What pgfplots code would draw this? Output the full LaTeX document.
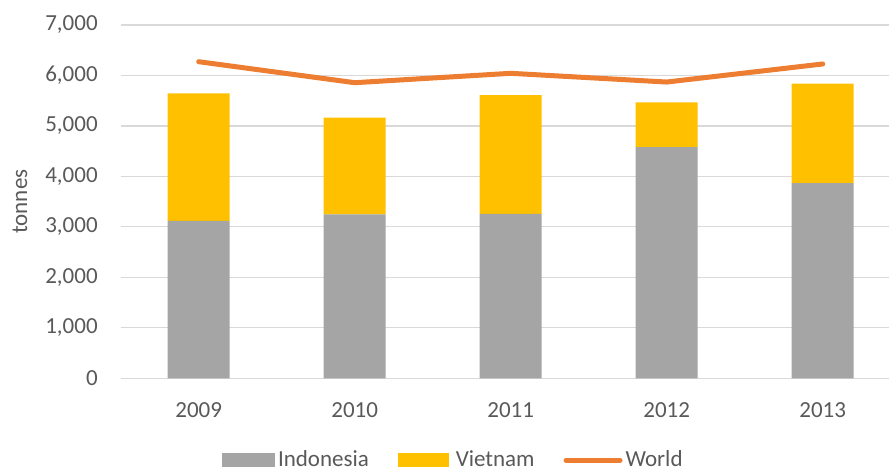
\documentclass[border=0pt]{standalone}
\usepackage{fontspec}
\setmainfont{Carlito}
\usepackage{pgfplots}
\pgfplotsset{compat=1.18}
\definecolor{indo}{HTML}{A5A5A5}
\definecolor{viet}{HTML}{FFC000}
\definecolor{world}{HTML}{ED7D31}
\definecolor{txt}{HTML}{595959}
\definecolor{gridc}{HTML}{D9D9D9}
\newcommand{\chfont}{\fontsize{11.5}{13}\selectfont}
\begin{document}
\begin{tikzpicture}
\clip (0,0) rectangle (444.5pt,236pt);
\pgfplotsset{base/.style={
  at={(60.35pt,46.85pt)}, anchor=south west,
  scale only axis, width=384.15pt, height=176.65pt,
  xmin=-0.5, xmax=4.425, ymin=0, ymax=7000,
  clip=false,
}}
\begin{axis}[base,
  ybar stacked, bar width=31pt,
  axis line style={draw=none},
  major tick length=0pt,
  xtick={0,1,2,3,4},
  xticklabels={2009,2010,2011,2012,2013},
  ytick={0,1000,...,7000},
  ymajorgrids, grid style={gridc, line width=0.6pt},
  /pgf/number format/assume math mode=true,
  /pgf/number format/1000 sep={,},
  tick label style={font=\chfont, text=txt, inner sep=0pt},
  yticklabel style={anchor=east, xshift=-11.3pt},
  xticklabel style={anchor=center, yshift=-15.7pt},
  ylabel={tonnes},
  ylabel style={font=\chfont, text=txt, at={(axis description cs:-0.131,0.5)}, anchor=center, inner sep=0pt},
]
\addplot[fill=indo, draw=none] coordinates {(0,3120) (1,3250) (2,3260) (3,4580) (4,3865)};
\addplot[fill=viet, draw=none] coordinates {(0,2527) (1,1914) (2,2353) (3,889) (4,1972)};
\end{axis}
\begin{axis}[base,
  hide axis,
  legend columns=3,
  legend style={draw=none, fill=none, font=\chfont, text=txt,
    at={(axis description cs:0.4337,-0.232)}, anchor=center,
    nodes={inner sep=1.5pt},
    /tikz/every even column/.append style={column sep=13pt}},
]
\addlegendimage{legend image code/.code={\fill[indo] (0pt,-3.3pt) rectangle (26pt,3.3pt);}}
\addlegendentry{Indonesia}
\addlegendimage{legend image code/.code={\fill[viet] (0pt,-3.3pt) rectangle (25pt,3.3pt);}}
\addlegendentry{\hspace{2pt}Vietnam}
\addplot[world, line width=2.5pt, line cap=round, line join=round,
  legend image code/.code={\draw[world, line width=2.5pt, line cap=round] (0pt,0pt) -- (27pt,0pt);}]
  coordinates {(0,6273) (1,5857) (2,6043) (3,5870) (4,6228)};
\addlegendentry{World}
\end{axis}
\end{tikzpicture}
\end{document}
